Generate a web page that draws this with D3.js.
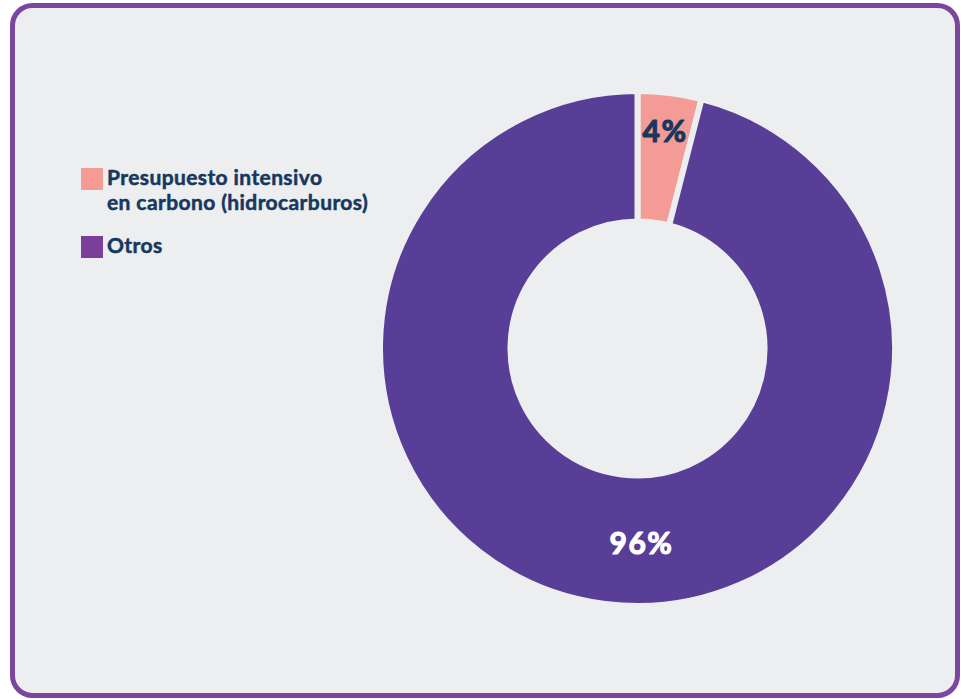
<!DOCTYPE html>
<html>
<head>
<meta charset="utf-8">
<script src="https://cdn.jsdelivr.net/npm/d3@7"></script>
<style>
  html, body { margin: 0; padding: 0; background: #ffffff; }
  svg { display: block; }
  text { font-family: Lato, "Noto Sans", sans-serif; font-weight: 700; }
</style>
</head>
<body>
<svg id="chart" width="962" height="699"></svg>
<script>
const categories = ["Presupuesto intensivo en carbono (hidrocarburos)", "Otros"];
const legendLines = [["Presupuesto intensivo", "en carbono (hidrocarburos)"], ["Otros"]];
const values = [4, 96];
const valueLabels = ["4%", "96%"];
const sliceColors = ["#f49b95", "#583e97"];
const legendColors = ["#f49b95", "#7b3f9b"];
const labelColors = ["#17375f", "#ffffff"];

const svg = d3.select("#chart");

// frame
svg.append("rect")
  .attr("x", 12.5).attr("y", 5.5)
  .attr("width", 945).attr("height", 690)
  .attr("rx", 20).attr("ry", 20)
  .attr("fill", "#eceeef")
  .attr("stroke", "#7b46a0")
  .attr("stroke-width", 5);

const cx = 637.5, cy = 348.5, outerR = 257.5, innerR = 127;

const pie = d3.pie().sort(null).value(d => d)(values);
const arc = d3.arc().innerRadius(innerR).outerRadius(outerR);

const g = svg.append("g").attr("transform", `translate(${cx},${cy})`);

g.selectAll("path.slice")
  .data(pie)
  .join("path")
  .attr("class", "slice")
  .attr("d", arc)
  .attr("fill", (d, i) => sliceColors[i])
  .attr("stroke", "#eceeef")
  .attr("stroke-width", 6)
  .attr("stroke-linejoin", "miter");

// labels
const labelPos = (d, i) => {
  if (i === 0) {
    const a = (d.startAngle + d.endAngle) / 2;
    const r = 220;
    return [r * Math.sin(a), -r * Math.cos(a)];
  } else {
    const a = Math.PI * 0.9935;
    const r = 194;
    return [r * Math.sin(a), -r * Math.cos(a)];
  }
};

g.selectAll("text.val")
  .data(pie)
  .join("text")
  .attr("class", "val")
  .attr("x", (d, i) => labelPos(d, i)[0])
  .attr("y", (d, i) => labelPos(d, i)[1])
  .attr("text-anchor", "middle")
  .attr("dominant-baseline", "central")
  .attr("font-size", 30)
  .attr("letter-spacing", 1.5)
  .attr("fill", (d, i) => labelColors[i])
  .attr("stroke", (d, i) => labelColors[i])
  .attr("stroke-width", 1.1)
  .attr("stroke-linejoin", "round")
  .text((d, i) => valueLabels[i]);

// legend
const legendY = [168, 236];
const lg = svg.append("g");
categories.forEach((c, i) => {
  lg.append("rect")
    .attr("x", 81).attr("y", legendY[i])
    .attr("width", 22).attr("height", 22)
    .attr("fill", legendColors[i]);
  const t = lg.append("text")
    .attr("x", 107)
    .attr("y", legendY[i] + 17)
    .attr("font-size", 21)
    .attr("letter-spacing", 0.4)
    .attr("fill", "#17375f")
    .attr("stroke", "#17375f")
    .attr("stroke-width", 0.5)
    .attr("stroke-linejoin", "round");
  legendLines[i].forEach((ln, j) => {
    t.append("tspan").attr("x", 107).attr("dy", j === 0 ? 0 : 25).text(ln);
  });
});
</script>
</body>
</html>
